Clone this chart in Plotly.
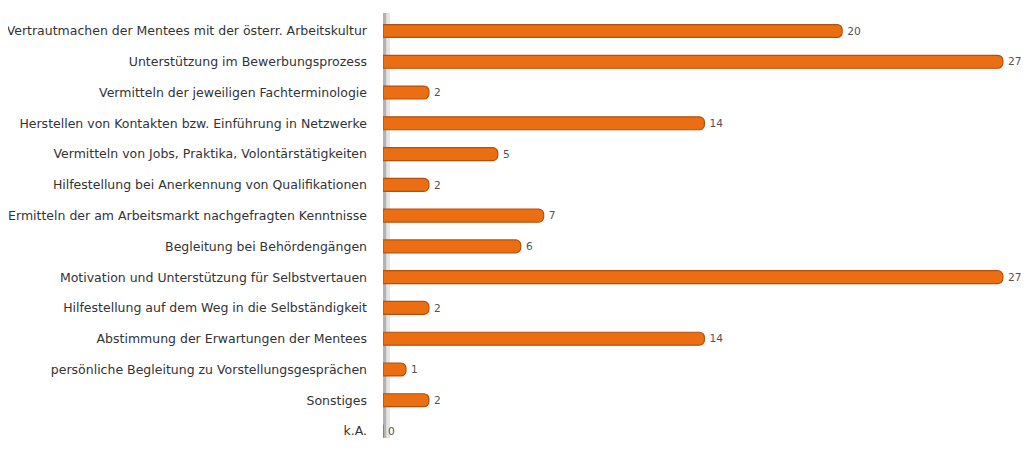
import plotly.graph_objects as go

categories = [
    "Vertrautmachen der Mentees mit der österr. Arbeitskultur",
    "Unterstützung im Bewerbungsprozess",
    "Vermitteln der jeweiligen Fachterminologie",
    "Herstellen von Kontakten bzw. Einführung in Netzwerke",
    "Vermitteln von Jobs, Praktika, Volontärstätigkeiten",
    "Hilfestellung bei Anerkennung von Qualifikationen",
    "Ermitteln der am Arbeitsmarkt nachgefragten Kenntnisse",
    "Begleitung bei Behördengängen",
    "Motivation und Unterstützung für Selbstvertauen",
    "Hilfestellung auf dem Weg in die Selbständigkeit",
    "Abstimmung der Erwartungen der Mentees",
    "persönliche Begleitung zu Vorstellungsgesprächen",
    "Sonstiges",
    "k.A.",
]
values = [20, 27, 2, 14, 5, 2, 7, 6, 27, 2, 14, 1, 2, 0]

fig = go.Figure()
fig.add_trace(go.Bar(
    x=values,
    y=categories,
    orientation="h",
    width=0.42,
    marker=dict(color="#EC6E12", line=dict(color="#B5500A", width=1.2), cornerradius=5),
    text=values,
    texttemplate="\u2009%{x}",
    textposition="outside",
    textfont=dict(family="DejaVu Sans", size=11.5, color="#555555"),
    cliponaxis=False,
    hoverinfo="skip",
))

# axis line with shadow
fig.add_shape(type="rect", xref="x", yref="paper", x0=0.06, x1=0.30, y0=0, y1=0.9884,
              fillcolor="#E4E4E4", line=dict(width=0), layer="below")
fig.add_shape(type="rect", xref="x", yref="paper", x0=-0.02, x1=0.14, y0=0, y1=0.9884,
              fillcolor="#B3B3B3", line=dict(width=0), layer="below")

fig.update_layout(
    width=1027, height=430,
    margin=dict(l=375, r=0, t=0, b=0),
    paper_bgcolor="white", plot_bgcolor="white",
    showlegend=False,
    xaxis=dict(range=[0, 28.4], visible=False, fixedrange=True),
    yaxis=dict(
        type="category",
        categoryorder="array", categoryarray=categories,
        range=[13.2275, -0.7475],
        showgrid=False, zeroline=False, showline=False,
        ticks="", ticklabelstandoff=15,
        tickfont=dict(family="DejaVu Sans", size=12.5, color="#333333"),
    ),
)

fig.write_html("out.html")
